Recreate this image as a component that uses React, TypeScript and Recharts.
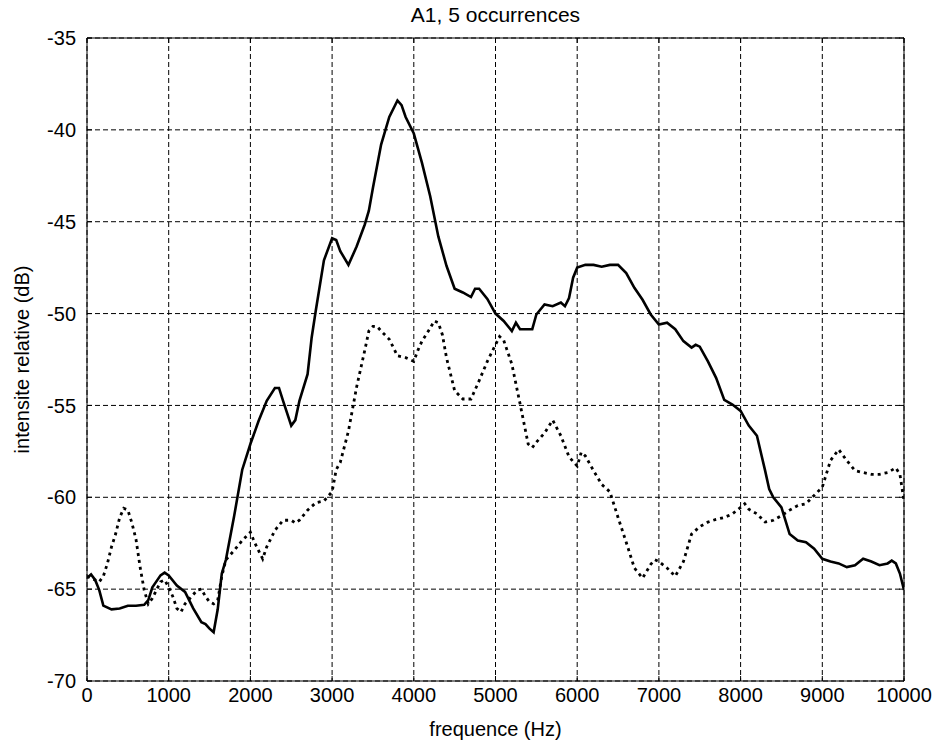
import React from "react";
import { LineChart, Line, XAxis, YAxis, CartesianGrid } from "recharts";

// frequency (Hz) and level (dB) for the solid curve
const solidFreq = [
  0, 50, 100, 150, 200, 300, 400, 500, 600, 700, 750, 800, 900, 950, 1000, 1100, 1200, 1300, 1400, 1450,
  1500, 1550, 1600, 1650, 1700, 1800, 1900, 2000, 2100, 2200, 2300, 2350, 2400, 2500, 2550, 2600, 2700,
  2750, 2800, 2900, 3000, 3050, 3100, 3200, 3300, 3400, 3450, 3500, 3600, 3700, 3800, 3850, 3900, 4000,
  4100, 4200, 4300, 4400, 4500, 4600, 4700, 4750, 4800, 4900, 5000, 5100, 5200, 5250, 5300, 5400, 5450,
  5500, 5600, 5700, 5800, 5850, 5900, 5950, 6000, 6100, 6200, 6300, 6400, 6500, 6600, 6700, 6800, 6900,
  7000, 7100, 7200, 7300, 7400, 7450, 7500, 7600, 7700, 7800, 7900, 8000, 8100, 8200, 8300, 8350, 8400,
  8500, 8600, 8700, 8800, 8900, 9000, 9100, 9200, 9300, 9400, 9500, 9600, 9700, 9800, 9850, 9900, 9950,
  10000,
];
const solidDb = [
  -64.4, -64.2, -64.5, -65.05, -65.9, -66.1, -66.05, -65.9, -65.9, -65.85, -65.6, -64.9, -64.25, -64.1,
  -64.25, -64.8, -65.15, -66.05, -66.8, -66.9, -67.15, -67.35, -66.1, -64.15, -63.4, -61.05, -58.5, -57.1,
  -55.85, -54.75, -54.05, -54.05, -54.75, -56.1, -55.8, -54.75, -53.3, -51.3, -49.85, -47.1, -45.9, -46.0,
  -46.6, -47.35, -46.35, -45.15, -44.4, -43.15, -40.8, -39.3, -38.4, -38.65, -39.3, -40.2, -41.8, -43.6,
  -45.8, -47.4, -48.65, -48.85, -49.1, -48.65, -48.65, -49.2, -50.0, -50.4, -50.95, -50.5, -50.85, -50.85,
  -50.85, -50.05, -49.5, -49.6, -49.4, -49.6, -49.15, -48.05, -47.5, -47.35, -47.35, -47.45, -47.35, -47.35,
  -47.8, -48.6, -49.25, -50.05, -50.6, -50.5, -50.85, -51.5, -51.85, -51.7, -51.8, -52.6, -53.5, -54.7,
  -54.95, -55.3, -56.1, -56.65, -58.55, -59.55, -60.0, -60.55, -62.0, -62.35, -62.45, -62.8, -63.35, -63.5,
  -63.6, -63.8, -63.7, -63.35, -63.5, -63.7, -63.6, -63.45, -63.6, -64.15, -65.05,
];

// frequency (Hz) and level (dB) for the dotted curve
const dottedFreq = [
  0, 100, 150, 200, 250, 300, 350, 400, 450, 500, 550, 600, 650, 700, 750, 800, 850, 900, 950, 1000, 1050,
  1100, 1150, 1200, 1300, 1350, 1400, 1450, 1500, 1550, 1600, 1650, 1700, 1800, 1900, 2000, 2050, 2100,
  2150, 2200, 2300, 2400, 2500, 2550, 2600, 2700, 2800, 2900, 3000, 3050, 3100, 3200, 3300, 3400, 3450,
  3500, 3550, 3600, 3700, 3800, 3900, 4000, 4050, 4100, 4200, 4250, 4300, 4350, 4400, 4500, 4600, 4700,
  4800, 4900, 5000, 5050, 5100, 5200, 5300, 5400, 5450, 5500, 5600, 5700, 5800, 5900, 6000, 6050, 6100,
  6200, 6300, 6400, 6500, 6600, 6700, 6800, 6900, 6950, 7000, 7100, 7200, 7300, 7400, 7500, 7600, 7700,
  7800, 7900, 8000, 8050, 8100, 8200, 8300, 8400, 8500, 8600, 8700, 8800, 8900, 9000, 9100, 9200, 9300,
  9400, 9500, 9600, 9700, 9800, 9900, 9950, 10000,
];
const dottedDb = [
  -64.3, -64.5, -64.6, -64.3, -63.6, -62.7, -62.0, -61.1, -60.6, -60.7, -61.4, -62.3, -63.8, -65.05, -65.8,
  -65.5, -65.05, -64.6, -64.5, -64.9, -65.4, -66.05, -66.25, -65.8, -65.3, -65.05, -65.0, -65.4, -65.7,
  -65.8, -65.6, -64.3, -63.4, -62.9, -62.35, -61.9, -62.45, -62.9, -63.35, -62.7, -61.8, -61.25, -61.25,
  -61.4, -61.25, -60.7, -60.3, -60.2, -59.7, -58.5, -58.1, -56.4, -54.0, -52.0, -50.95, -50.7, -50.7,
  -50.95, -51.4, -52.3, -52.4, -52.6, -52.0, -51.5, -50.8, -50.4, -50.5, -51.15, -52.4, -54.2, -54.65,
  -54.65, -53.65, -52.6, -51.7, -51.25, -51.45, -52.75, -54.9, -57.1, -57.3, -57.0, -56.5, -55.8, -56.65,
  -57.8, -58.3, -57.55, -57.75, -58.55, -59.3, -59.7, -61.1, -62.45, -63.85, -64.4, -63.65, -63.4, -63.5,
  -63.85, -64.3, -63.5, -62.0, -61.6, -61.35, -61.2, -61.1, -60.9, -60.55, -60.35, -60.65, -60.9, -61.35,
  -61.25, -61.0, -60.7, -60.45, -60.35, -59.9, -59.45, -58.0, -57.4, -58.0, -58.55, -58.65, -58.75, -58.75,
  -58.65, -58.4, -58.75, -60.2,
];

const xTicks = [0, 1000, 2000, 3000, 4000, 5000, 6000, 7000, 8000, 9000, 10000];
const yTicks = [-70, -65, -60, -55, -50, -45, -40, -35];

const solid = solidFreq.map((f, i) => ({ f, db: solidDb[i] }));
const dotted = dottedFreq.map((f, i) => ({ f, db: dottedDb[i] }));

const FONT = "'Liberation Sans', Arial, sans-serif";
const tickStyle = { fontSize: 20, fill: "#000", fontFamily: FONT };
const blank = () => "";

const App = () => {
  return (
    <div
      style={{
        position: "absolute",
        left: 0,
        top: 0,
        width: 935,
        height: 744,
        background: "#fff",
        fontFamily: FONT,
      }}
    >
      {/* title */}
      <div
        style={{
          position: "absolute",
          left: 87,
          width: 817,
          top: 3,
          textAlign: "center",
          fontSize: 21,
          color: "#000",
        }}
      >
        A1, 5 occurrences
      </div>

      <LineChart
        width={935}
        height={744}
        margin={{ top: 37, right: 30, bottom: 0, left: 0 }}
      >
        <CartesianGrid stroke="#000" strokeDasharray="5 3" strokeWidth={1} />
        <XAxis
          dataKey="f"
          type="number"
          domain={[0, 10000]}
          ticks={xTicks}
          allowDataOverflow
          height={63}
          stroke="#000"
          tickSize={-5}
          tickMargin={12}
          tick={tickStyle}
          label={{
            value: "frequence (Hz)",
            position: "insideBottom",
            offset: 8,
            style: { fontSize: 20, fill: "#000", fontFamily: FONT },
          }}
        />
        <XAxis
          xAxisId="top"
          orientation="top"
          dataKey="f"
          type="number"
          domain={[0, 10000]}
          ticks={xTicks}
          allowDataOverflow
          height={1}
          stroke="#000"
          tickSize={-5}
          tickFormatter={blank}
        />
        <YAxis
          type="number"
          domain={[-70, -35]}
          ticks={yTicks}
          allowDataOverflow
          width={87}
          stroke="#000"
          tickSize={-5}
          tickMargin={16}
          tick={tickStyle}
          label={{
            value: "intensite relative (dB)",
            angle: -90,
            position: "insideLeft",
            offset: 22,
            style: { fontSize: 20, fill: "#000", fontFamily: FONT, textAnchor: "middle" },
          }}
        />
        <YAxis
          yAxisId="right"
          orientation="right"
          type="number"
          domain={[-70, -35]}
          ticks={yTicks}
          allowDataOverflow
          width={1}
          stroke="#000"
          tickSize={-5}
          tickFormatter={blank}
        />
        <Line
          data={dotted}
          dataKey="db"
          type="linear"
          stroke="#000"
          strokeWidth={2.8}
          strokeDasharray="3 4"
          dot={false}
          isAnimationActive={false}
        />
        <Line
          data={solid}
          dataKey="db"
          type="linear"
          stroke="#000"
          strokeWidth={2.6}
          dot={false}
          isAnimationActive={false}
        />
      </LineChart>
    </div>
  );
};

export default App;
